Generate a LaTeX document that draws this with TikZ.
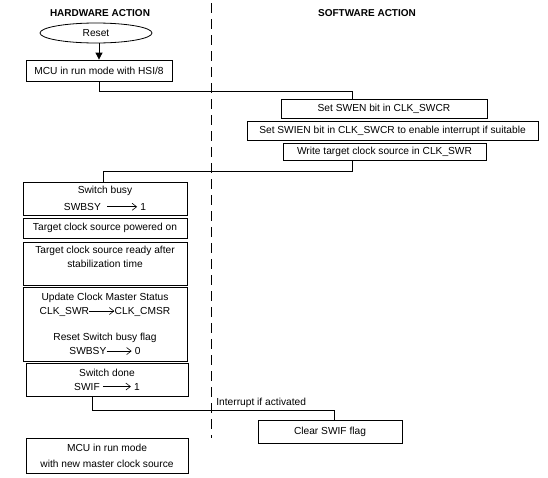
\documentclass[tikz,border=0pt]{standalone}
\usepackage{fontspec}
\setmainfont{Liberation Sans}
\usetikzlibrary{arrows.meta,shapes.geometric}

\newcommand{\flagarrow}[1]{\tikz[baseline=-.65ex]\draw[line width=.6pt,
  -{Straight Barb[length=4.5pt,width=7pt]}] (0pt,0pt) -- (#1,0pt);}

\begin{document}
\begin{tikzpicture}[x=1pt,y=-1pt,
  every path/.style={line width=.8pt},
  head/.style={font=\fontsize{10}{12}\selectfont\bfseries},
  actbox/.style={draw=black,line width=.8pt,align=center,inner sep=0pt,
    font=\fontsize{10.2}{14}\selectfont},
  startnode/.style={draw=black,line width=.8pt,ellipse,inner sep=0pt,
    minimum width=112pt,minimum height=20pt,font=\fontsize{10.2}{12}\selectfont},
  lbl/.style={inner sep=1pt,font=\fontsize{10.2}{12}\selectfont}]

\useasboundingbox (0,0) rectangle (548,477);

% lane divider
\coordinate (divtop) at (211,3);
\coordinate (divbot) at (211,438);
\draw[dash pattern=on 10pt off 6pt] (divtop) -- (divbot);

\node[head] (hw) at (100,13) {HARDWARE ACTION};
\node[head] (sw) at (367,13) {SOFTWARE ACTION};

\node[startnode] (reset) at (96,33) {Reset};
\node[actbox,minimum width=146pt,minimum height=21pt] (mcu) at (99,70.5)
  {MCU in run mode with HSI/8};

\node[actbox,minimum width=206pt,minimum height=19pt] (swen) at (384,108.5)
  {Set SWEN bit in CLK\_SWCR};
\node[actbox,minimum width=291pt,minimum height=19pt] (swien) at (392.5,130.5)
  {Set SWIEN bit in CLK\_SWCR to enable interrupt if suitable};
\node[actbox,minimum width=203pt,minimum height=17pt] (wrt) at (384.5,151.5)
  {Write target clock source in CLK\_SWR};

\node[actbox,minimum width=164pt,minimum height=33pt] (busy) at (105,198.5)
  {Switch busy\\[2.5pt]SWBSY\hspace{6pt}\flagarrow{30pt} 1};
\node[actbox,minimum width=164pt,minimum height=20pt] (powered) at (105,228)
  {Target clock source powered on};
\node[actbox,minimum width=164pt,minimum height=43pt] (ready) at (105,263.5)
  {Target clock source ready after\\stabilization time\\\mbox{}};
\node[actbox,minimum width=164pt,minimum height=74pt] (update) at (105,324)
  {Update Clock Master Status\\CLK\_SWR\flagarrow{25pt}CLK\_CMSR\\[12pt]
   Reset Switch busy flag\\SWBSY\flagarrow{25pt} 0};
\node[actbox,minimum width=162pt,minimum height=33pt] (done) at (107,379.5)
  {Switch done\\SWIF \flagarrow{28pt} 1};

\node[actbox,minimum width=144pt,minimum height=23pt] (clear) at (330,431.5)
  {Clear SWIF flag};
\node[actbox,minimum width=162pt,minimum height=35pt] (final) at (107,455.5)
  {MCU in run mode\\[2pt]with new master clock source};

% connectors
\draw[-{Triangle[length=7pt,width=7pt]}] (reset.south -| mcu.north) -- (mcu.north);

\coordinate (k1) at (352,91);
\draw (mcu.south) |- (k1) -- (k1 |- swen.north);

\coordinate (k2) at (103,171);
\draw ([xshift=-32.5pt]wrt.south) |- (k2) -- (k2 |- busy.north);

\coordinate (k3) at (334,410);
\draw ([xshift=-15pt]done.south) |- (k3) -- (k3 |- clear.north);
\node[lbl,anchor=south west] (irq) at (215,409) {Interrupt if activated};
\end{tikzpicture}
\end{document}
